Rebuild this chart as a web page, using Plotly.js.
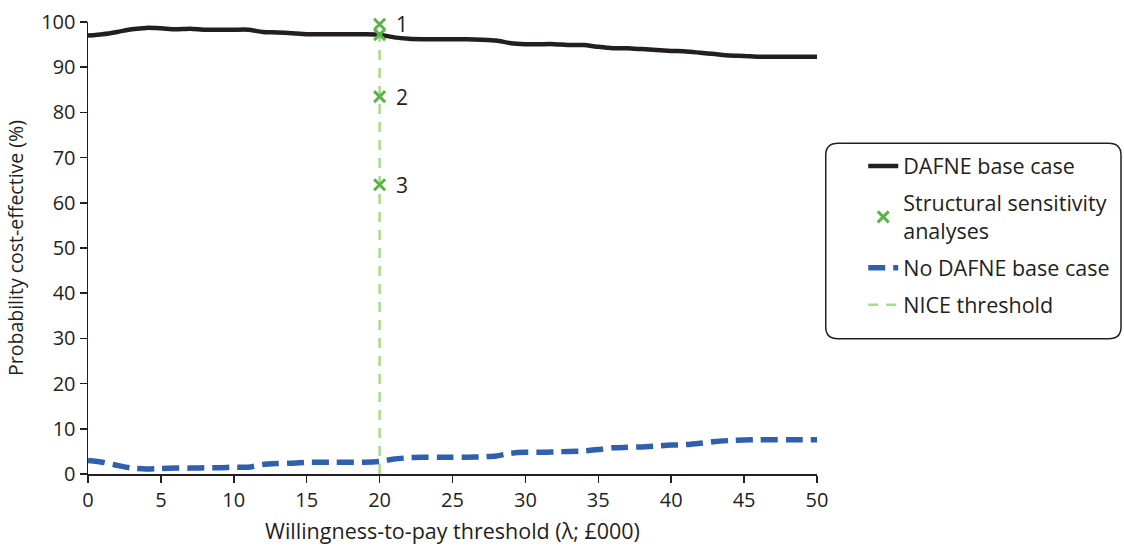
<!DOCTYPE html>
<html>
<head>
<meta charset="utf-8">
<script src="https://cdn.plot.ly/plotly-3.0.1.min.js"></script>
<style>html,body{margin:0;padding:0;background:#fff;}#chart{width:1124px;height:551px;}</style>
</head>
<body>
<div id="chart"></div>
<script>
const wtp = [0,1,2,3,4,5,6,7,8,9,10,11,12,13,14,15,16,17,18,19,20,21,22,23,24,25,26,27,28,29,30,31,32,33,34,35,36,37,38,39,40,41,42,43,44,45,46,47,48,49,50];
const dafneBase = [97.0,97.3,97.8,98.4,98.7,98.6,98.4,98.5,98.3,98.3,98.3,98.3,97.8,97.7,97.5,97.3,97.3,97.3,97.3,97.3,97.2,96.6,96.3,96.2,96.2,96.2,96.2,96.1,95.9,95.3,95.1,95.1,95.1,94.9,94.9,94.5,94.2,94.2,94.0,93.8,93.6,93.5,93.2,92.9,92.6,92.5,92.3,92.3,92.3,92.3,92.3];
const noDafneBase = [3.0,2.6,1.9,1.3,1.1,1.2,1.3,1.3,1.4,1.4,1.5,1.5,2.1,2.3,2.4,2.6,2.6,2.6,2.6,2.6,2.8,3.3,3.6,3.7,3.7,3.7,3.7,3.8,4.0,4.6,4.8,4.8,4.9,5.0,5.1,5.4,5.8,5.9,6.0,6.2,6.4,6.5,6.8,7.2,7.4,7.5,7.6,7.6,7.6,7.6,7.6];
const ssaX = [20,20,20,20];
const ssaY = [99.5,97.2,83.5,64.0];
const ssaLabels = ['1','','2','3'];
const niceX = [20,20];
const niceY = [0,99.5];
const xTicks = [0,5,10,15,20,25,30,35,40,45,50];
const yTicks = [0,10,20,30,40,50,60,70,80,90,100];

const FONT = 'Open Sans, Noto Sans, sans-serif';
const INK = '#231f20';
const dafneTrace = {x: wtp, y: dafneBase, type:'scatter', mode:'lines', name:'DAFNE base case',
   legendgroup:'a', legendrank:1,
   line:{color:INK, width:4.5, shape:'spline', smoothing:0.6}};
const ssaTrace = {x: ssaX, y: ssaY, type:'scatter', mode:'markers', name:'Structural sensitivity<br>analyses',
   legendgroup:'b', legendrank:2, cliponaxis:false,
   marker:{symbol:'x-thin', size:11, color:'#5bb546', line:{color:'#5bb546', width:3}}};
const noDafneTrace = {x: wtp, y: noDafneBase, type:'scatter', mode:'lines', name:'No DAFNE base case',
   legendgroup:'c', legendrank:3,
   line:{color:'#2f60ae', width:5.5, dash:'17px,8px', shape:'spline', smoothing:0.6}};
const niceTrace = {x: niceX, y: niceY, type:'scatter', mode:'lines', name:'NICE threshold',
   legendgroup:'d', legendrank:4,
   line:{color:'#a9d98f', width:2.5, dash:'10px,8px'}};

const labelAnnots = ssaLabels.map((t,i) => ({x: ssaX[i], y: ssaY[i], xref:'x', yref:'y', text:t,
  showarrow:false, xanchor:'left', yanchor:'middle', xshift:14, font:{size:21, color:INK, family:FONT}}))
  .filter(a => a.text !== '');

const layout = {
  width:1124, height:551,
  margin:{l:88, r:307, t:22, b:77},
  paper_bgcolor:'#fff', plot_bgcolor:'#fff',
  font:{family:FONT, color:INK, size:20},
  showlegend:true,
  legend:{xref:'container', yref:'container', x:0.768, y:0.736, xanchor:'left', yanchor:'top', bgcolor:'rgba(0,0,0,0)',
    borderwidth:0, font:{size:21.5, family:FONT, color:INK}, tracegroupgap:6, traceorder:'grouped'},
  xaxis:{range:[0,50], tickvals:xTicks, ticktext:xTicks.map(String), showgrid:false, zeroline:false,
    showline:true, linecolor:INK, linewidth:1.5, ticks:'outside', ticklen:7, tickwidth:1.5, tickcolor:INK,
    tickfont:{size:20}, title:{text:'Willingness-to-pay threshold (λ; £000)', font:{size:21.5}, standoff:12}},
  yaxis:{range:[0,100], tickvals:yTicks, ticktext:yTicks.map(String), showgrid:false, zeroline:false,
    showline:true, linecolor:INK, linewidth:1.5, ticks:'outside', ticklen:7, tickwidth:1.5, tickcolor:INK,
    tickfont:{size:20}, title:{text:'Probability cost-effective (%)', font:{size:19.5}, standoff:12}},
  annotations: labelAnnots,
  shapes:[{type:'path', xref:'paper', yref:'paper',
    path:'M 1.029 0.732 L 1.400 0.732 Q 1.417 0.732 1.417 0.706 L 1.417 0.325 Q 1.417 0.299 1.400 0.299 L 1.029 0.299 Q 1.012 0.299 1.012 0.325 L 1.012 0.706 Q 1.012 0.732 1.029 0.732 Z',
    line:{color:INK, width:1.5}, fillcolor:'rgba(0,0,0,0)'}]
};
Plotly.newPlot('chart', [niceTrace, dafneTrace, noDafneTrace, ssaTrace], layout, {displayModeBar:false, staticPlot:true});
</script>
</body>
</html>
